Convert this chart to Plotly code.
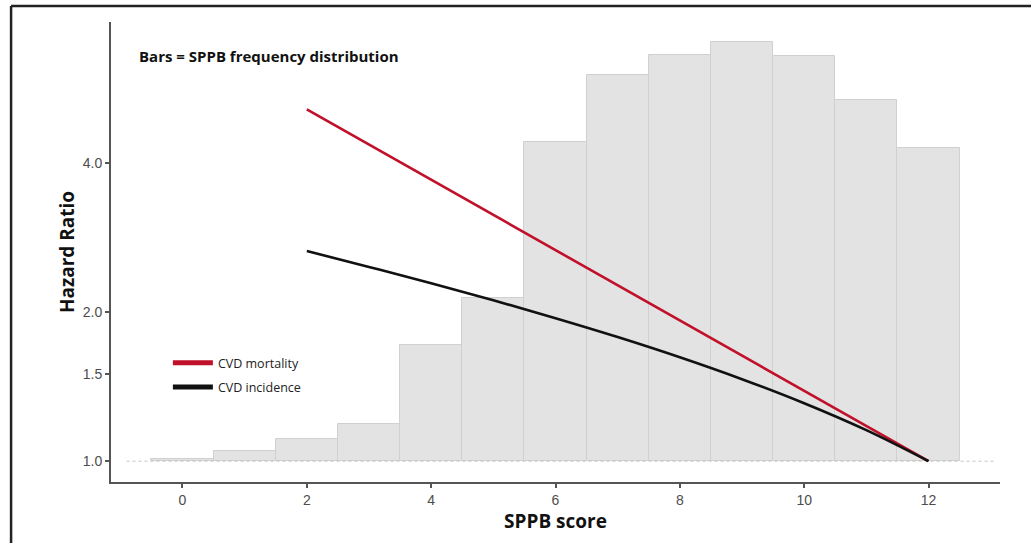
import plotly.graph_objects as go

# --- data ---
sppb_scores = list(range(0, 13))
bar_heights = [1.01, 1.05, 1.11, 1.19, 1.72, 2.14, 4.41, 6.01, 6.60, 7.01, 6.58, 5.35, 4.28]

mort_x = [2, 12]
mort_hr = [5.13, 1.00]

inc_x = [2, 3, 4, 5, 6, 7, 8, 9, 10, 11, 12]
inc_hr = [2.656, 2.467, 2.287, 2.113, 1.944, 1.781, 1.621, 1.464, 1.309, 1.155, 1.000]

y_tickvals = [1.0, 1.5, 2.0, 4.0]
y_ticktext = ["1.0", "1.5", "2.0", "4.0"]
x_tickvals = [0, 2, 4, 6, 8, 10, 12]

RED = "#c0102a"
BLACK = "#111111"

fig = go.Figure()

fig.add_trace(go.Bar(
    x=sppb_scores,
    y=[h - 1.0 for h in bar_heights],
    base=1.0,
    width=1.0,
    marker=dict(color="#e3e3e3", line=dict(color="#d0d0d0", width=1)),
    showlegend=False,
    hoverinfo="skip",
))

fig.add_trace(go.Scatter(
    x=[-0.9, 13.05], y=[1.0, 1.0], mode="lines",
    line=dict(color="#c4c4c4", width=1, dash="dot"),
    showlegend=False, hoverinfo="skip",
))

fig.add_trace(go.Scatter(
    x=mort_x, y=mort_hr, mode="lines",
    line=dict(color=RED, width=2.6),
    showlegend=False,
))
fig.add_trace(go.Scatter(
    x=inc_x, y=inc_hr, mode="lines",
    line=dict(color=BLACK, width=2.6, shape="spline", smoothing=1.0),
    showlegend=False,
))

# legend entries (thicker keys as in the reference)
fig.add_trace(go.Scatter(x=[None], y=[None], mode="lines", name="CVD mortality",
                         line=dict(color=RED, width=5), legendgroup="a"))
fig.add_trace(go.Scatter(x=[None], y=[None], mode="lines", name="CVD incidence",
                         line=dict(color=BLACK, width=5), legendgroup="b"))

fig.add_annotation(
    text="<b>Bars = SPPB frequency distribution</b>",
    xref="paper", yref="paper", x=0.029, y=0.926,
    xanchor="left", yanchor="middle", showarrow=False,
    font=dict(family="Open Sans", size=15, color="#111111"),
)

# outer frame of the original figure (top and left edges visible)
fig.add_shape(type="line", xref="paper", yref="paper",
              x0=-0.1124, y0=1.0348, x1=1.05, y1=1.0348,
              line=dict(color="#222222", width=2.5))
fig.add_shape(type="line", xref="paper", yref="paper",
              x0=-0.1124, y0=1.0348, x1=-0.1124, y1=-0.15,
              line=dict(color="#222222", width=2.5))

fig.update_layout(
    width=1031, height=543,
    margin=dict(l=111, r=31, t=22, b=61),
    plot_bgcolor="white", paper_bgcolor="white",
    bargap=0,
    legend=dict(
        x=0.064, y=0.291, xanchor="left", yanchor="top",
        font=dict(family="Open Sans", size=12.5, color="#222222"),
        bgcolor="rgba(0,0,0,0)", itemwidth=40, tracegroupgap=5,
    ),
    xaxis=dict(
        range=[-1.15, 13.15], tickvals=x_tickvals,
        showgrid=False, zeroline=False,
        showline=True, linecolor="#555555", linewidth=2,
        ticks="outside", ticklen=4, tickcolor="#555555", tickwidth=1.5,
        tickfont=dict(family="Liberation Sans", size=14, color="#4d4d4d"),
        title=dict(text="<b>SPPB score</b>", standoff=6,
                   font=dict(family="Open Sans", size=19, color="#111111")),
    ),
    yaxis=dict(
        type="log", range=[-0.042, 0.8865],
        tickvals=y_tickvals, ticktext=y_ticktext,
        showgrid=False, zeroline=False,
        showline=True, linecolor="#555555", linewidth=2,
        ticks="outside", ticklen=4, tickcolor="#555555", tickwidth=1.5,
        tickfont=dict(family="Liberation Sans", size=14, color="#4d4d4d"),
        title=dict(text="<b>Hazard Ratio</b>", standoff=3,
                   font=dict(family="Open Sans", size=19, color="#111111")),
    ),
)

fig.write_html("out.html")
